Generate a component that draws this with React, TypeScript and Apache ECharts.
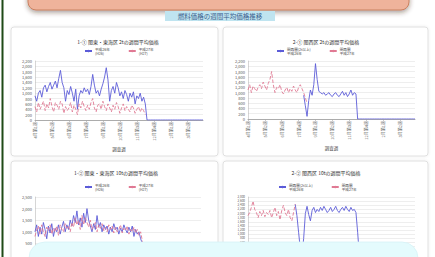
import React, { useEffect, useRef } from "react";
import * as echarts from "echarts";

// ---- data ----
const tickLabels = ["4月第1週", "5月第2週", "6月第3週", "7月第4週", "9月第1週", "10月第2週", "11月第3週", "12月第4週", "2月第1週", "3月第2週"];
const categories = Array.from({ length: 100 }, (_, i) => `w${i}`);

const seriesNames = ["平成26年\n(H26)", "平成27年\n(H27)"];
const seriesNamesKansai = ["関西圏(2t以上)\n平成26年", "関西圏\n平成27年"];

const tlBlue = [900, 700, 1000, 1100, 850, 1200, 1300, 1050, 1250, 1400, 1150, 1300, 1450, 1200, 1550, 1850, 1400, 1200, 700, 1100, 950, 1250, 1000, 700, 1150, 400, 900, 1100, 1000, 1200, 1050, 1150, 950, 1250, 1700, 1300, 1000, 1100, 900, 1150, 1350, 1600, 1950, 1500, 700, 1100, 1250, 1000, 1400, 1200, 900, 1050, 800, 1100, 950, 700, 1000, 850, 1050, 600, 900, 800, 1000, 700, 850, 600, 0,
  0, 0, 0, 0, 0, 0, 0, 0, 0, 0, 0, 0, 0, 0, 0, 0, 0, 0, 0, 0, 0, 0, 0, 0, 0, 0, 0, 0, 0, 0, 0, 0, 0];
const tlPink = [500, 300, 650, 400, 550, 700, 350, 600, 450, 800, 500, 300, 650, 550, 400, 700, 600, 250, 500, 350, 450, 650, 300, 550, 400, 200, 600, 450, 700, 500, 350, 550, 400, 650, 800, 450, 300, 550, 600, 400, 700, 500, 350, 600, 450, 300, 550, 400, 650, 500, 250, 450, 600, 350, 500, 400, 300, 550, 450, 250, 400, 500, 300, 450, 350, 200];

const trPink = [1100, 1300, 1000, 1250, 1150, 1050, 1200, 1300, 1150, 1400, 1250, 1100, 1350, 1500, 1800, 1300, 1000, 1200, 1150, 1300, 1050, 950, 1100, 1200, 1000, 1150, 1050, 1250, 1100, 1000, 1200, 1300, 1150, 1000, 800, 600];
const trBlueStart = 33;
const trBlue = [900, 500, 100, 700, 1100, 900, 1300, 2100, 1500, 1050, 1000, 950, 1000, 900, 950, 1000, 900, 850, 950, 1000, 900, 850, 950, 1050, 900, 1000, 850, 950, 1100, 900, 1000, 950, 0,
  0, 0, 0, 0, 0, 0, 0, 0, 0, 0, 0, 0, 0, 0, 0, 0, 0, 0, 0, 0, 0, 0, 0, 0, 0, 0, 0, 0, 0, 0, 0, 0, 0, 0];

const blBlue = [1000, 1300, 800, 1200, 900, 1400, 1100, 700, 1250, 950, 1350, 800, 1150, 1000, 1300, 900, 1200, 1450, 1000, 1300, 1100, 1500, 1250, 1700, 1400, 1900, 1300, 1600, 1200, 1800, 1400, 2000, 1500, 1250, 1000, 1350, 1100, 1700, 1200, 1400, 1000, 1300, 1100, 1250, 900, 1200, 1000, 1350, 1100, 1200, 900, 1150, 1000, 1300, 1100, 950, 1200, 1000, 1250, 800, 1100, 900, 1000, 700, 500, 300];
const blPink = [800, 1100, 1250, 900, 1300, 1000, 800, 1200, 1050, 1300, 900, 1150, 1000, 1250, 850, 1300, 1100, 1000, 1350, 1150, 1250, 1000, 1400, 1200, 1600, 1300, 1500, 1100, 1700, 1300, 1600, 1400, 1200, 1500, 1100, 1250, 1400, 1000, 1300, 1150, 1350, 1050, 1200, 1000, 1300, 1100, 1250, 950, 1200, 1000, 1100, 1300, 950, 1150, 1050, 1250, 900, 1100, 1000, 1200, 950, 1100, 850, 1000, 600, 400];

const brPink = [1900, 2050, 2300, 2600, 2200, 2050, 1800, 2100, 1900, 2150, 1850, 2050, 1950, 2150, 1800, 2050, 2300, 1900, 2100, 1700, 2150, 2400, 2050, 1900, 2200, 1800, 1650, 2050, 2450];
const brBlueStart = 28;
const brBlue = [2450, 1900, 1100, 300, 0, 800, 2000, 2350, 1950, 1650, 2150, 2300, 2050, 2200, 2100, 2300, 2150, 2350, 2200, 2050, 2150, 2300, 2100, 2200, 2350, 2150, 2050, 2200, 2300, 2150, 2350, 2200, 2100, 2300, 2150, 2200, 2050, 1100, 0];

const titles = ["1-① 関東・東海区 2tの週間平均価格", "2-① 関西区 2tの週間平均価格", "1-② 関東・東海区 10tの週間平均価格", "2-② 関西区 10tの週間平均価格"];
const bannerText = "燃料価格の週間平均価格推移";
const axisName = "調査週";

const BLUE = "#5c5cd8";
const PINK = "#e07a94";
const FONT = "'Noto Sans CJK JP', 'Noto Sans', sans-serif";

function withOffset(start: number, values: number[]) {
  const out: (number | null)[] = [];
  for (let i = 0; i < start; i++) out.push(null);
  return out.concat(values);
}

export default function App() {
  const ref = useRef<HTMLDivElement>(null);
  useEffect(() => {
    if (!ref.current) return;
    const chart = echarts.init(ref.current, undefined, { renderer: "svg" });

    const grids = [
      { left: 35, top: 61, width: 168, height: 59 },
      { left: 248, top: 61, width: 167, height: 58 },
      { left: 35, top: 197, width: 166, height: 58 },
      { left: 248, top: 197, width: 167, height: 58 },
    ];
    const yScales = [
      { max: 2200, interval: 200, fs: 4 },
      { max: 2200, interval: 200, fs: 4 },
      { max: 2500, interval: 500, fs: 4 },
      { max: 2800, interval: 200, fs: 3 },
    ];
    // bottom charts: their x-axis labels lie below the page edge in the reference
    const showXLabels = [true, true, false, false];

    const xAxes = grids.map((_, gi) => ({
      type: "category",
      gridIndex: gi,
      data: categories,
      boundaryGap: false,
      axisLine: { lineStyle: { color: "#9a9a9a", width: 0.8 } },
      axisTick: { show: true, interval: 9, length: 2, lineStyle: { color: "#aaa", width: 0.6 } },
      axisLabel: {
        show: showXLabels[gi],
        interval: 9,
        rotate: 90,
        fontSize: 4,
        color: "#666",
        margin: 2,
        fontFamily: FONT,
        formatter: (v: string) => {
          const i = Number(v.slice(1));
          return i % 10 === 0 ? tickLabels[i / 10] : "";
        },
      },
      name: showXLabels[gi] ? axisName : "",
      nameLocation: "middle",
      nameGap: 27,
      nameTextStyle: { fontSize: 4.5, color: "#444", fontFamily: FONT },
    }));

    const yAxes = grids.map((_, gi) => ({
      type: "value",
      gridIndex: gi,
      min: 0,
      max: yScales[gi].max,
      interval: yScales[gi].interval,
      axisLine: { show: true, lineStyle: { color: "#bbb", width: 0.6 } },
      axisTick: { show: false },
      axisLabel: { fontSize: yScales[gi].fs, lineHeight: yScales[gi].fs, color: "#555", margin: 3, fontFamily: FONT, showMinLabel: gi < 2 },
      splitLine: { lineStyle: { color: "#e2e2e2", width: 0.6 } },
    }));

    const line = (name: string, gi: number, data: (number | null)[], color: string, dashed: boolean) => ({
      type: "line",
      name,
      xAxisIndex: gi,
      yAxisIndex: gi,
      data,
      symbol: "none",
      connectNulls: false,
      lineStyle: { color, width: 0.9, type: dashed ? "dashed" : "solid" },
      itemStyle: { color },
      z: 3,
    });

    const series = [
      line("tlA", 0, tlBlue, BLUE, false),
      line("tlB", 0, tlPink, PINK, true),
      line("trA", 1, withOffset(trBlueStart, trBlue), BLUE, false),
      line("trB", 1, trPink, PINK, true),
      line("blA", 2, blBlue, BLUE, false),
      line("blB", 2, blPink, PINK, true),
      line("brA", 3, withOffset(brBlueStart, brBlue), BLUE, false),
      line("brB", 3, brPink, PINK, true),
    ];

    const legendNames: Record<string, string> = {
      tlA: seriesNames[0], tlB: seriesNames[1],
      trA: seriesNamesKansai[0], trB: seriesNamesKansai[1],
      blA: seriesNames[0], blB: seriesNames[1],
      brA: seriesNamesKansai[0], brB: seriesNamesKansai[1],
    };
    const legendPos = [
      { left: 84, top: 47, data: ["tlA", "tlB"] },
      { left: 276, top: 47, data: ["trA", "trB"] },
      { left: 84, top: 183, data: ["blA", "blB"] },
      { left: 278, top: 183, data: ["brA", "brB"] },
    ];
    const legends = legendPos.map((p) => ({
      left: p.left,
      top: p.top,
      data: p.data,
      itemWidth: 7,
      itemHeight: 3,
      itemGap: 18,
      padding: 0,
      selectedMode: false,
      textStyle: { fontSize: 3.6, lineHeight: 4, color: "#444", fontFamily: FONT, padding: [0, 0, 0, -2] },
      formatter: (n: string) => legendNames[n],
    }));

    const titleCfg = [
      { x: 118, y: 39 },
      { x: 326, y: 39 },
      { x: 116, y: 170 },
      { x: 326, y: 170 },
    ];
    const titleOpts = titles.map((t, i) => ({
      text: t,
      left: titleCfg[i].x,
      top: titleCfg[i].y,
      textAlign: "center",
      padding: 0,
      textStyle: { fontSize: 5, fontWeight: "normal", color: "#333", fontFamily: FONT },
    }));

    const panels = [
      [11, 27, 207, 129],
      [223, 27, 205, 129],
      [11, 161, 207, 130],
      [223, 161, 205, 130],
    ].map(([x, y, w, h]) => ({
      type: "rect",
      z: -10,
      shape: { x, y, width: w, height: h, r: 3 },
      style: { fill: "#ffffff", stroke: "#e0e0e0", lineWidth: 1, shadowBlur: 3, shadowColor: "rgba(0,0,0,0.08)" },
    }));

    const graphics: any[] = [
      ...panels,
      {
        type: "rect",
        z: 50,
        shape: { x: 1.5, y: 0, width: 2, height: 257 },
        style: { fill: "#1f4a17" },
      },
      {
        type: "rect",
        z: 60,
        shape: { x: 28, y: -20, width: 381, height: 30, r: 8 },
        style: {
          fill: "#efb39b",
          stroke: "#c9805f",
          lineWidth: 1,
          shadowBlur: 5,
          shadowOffsetY: 2,
          shadowColor: "rgba(60,40,30,0.45)",
        },
      },
      {
        type: "rect",
        z: 60,
        shape: { x: 165, y: 11, width: 110, height: 10 },
        style: { fill: "#bfe4f0" },
      },
      {
        type: "text",
        z: 61,
        x: 220,
        y: 16,
        style: {
          text: bannerText,
          fill: "#3a5f8c",
          font: `6.5px ${FONT}`,
          textAlign: "center",
          textVerticalAlign: "middle",
        },
      },
      {
        type: "rect",
        z: 100,
        shape: { x: 29, y: 242, width: 389, height: 40, r: 16 },
        style: { fill: "#e4fbfd", stroke: "#d6f3f6", lineWidth: 0.8 },
      },
    ];

    chart.setOption({
      animation: false,
      backgroundColor: "#ffffff",
      textStyle: { fontFamily: FONT },
      title: titleOpts,
      legend: legends,
      grid: grids.map((g) => ({ ...g, containLabel: false, outerBoundsMode: "none" })),
      xAxis: xAxes,
      yAxis: yAxes,
      series,
      graphic: { elements: graphics },
    } as any);

    return () => chart.dispose();
  }, []);

  return (
    <div
      ref={ref}
      style={{ position: "fixed", left: 0, top: 0, width: 435, height: 257, background: "#fff" }}
    />
  );
}
